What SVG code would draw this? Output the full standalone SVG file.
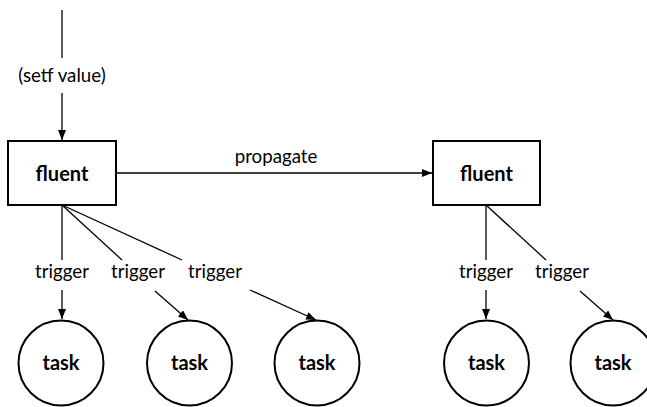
<svg xmlns="http://www.w3.org/2000/svg" width="647" height="407" viewBox="0 0 647 407">
<style>
.box{fill:#fff;stroke:#000;stroke-width:2}
.circ{fill:#fff;stroke:#000;stroke-width:2}
.edge{fill:none;stroke:#000;stroke-width:1.3}
.lbl{font-family:Lato,"DejaVu Sans",sans-serif;font-size:18.7px;fill:#000;text-anchor:middle}
.node{font-family:Lato,"DejaVu Sans",sans-serif;font-size:20px;font-weight:bold;fill:#000;text-anchor:middle}
</style>
<defs>
<marker id="ah" markerWidth="10" markerHeight="8" refX="10" refY="4" orient="auto" markerUnits="userSpaceOnUse">
<path d="M0,0 L10,4 L0,8 Z" fill="#000"/>
</marker>
</defs>
<rect width="647" height="407" fill="#fff"/>
<g id="connectors">
<line class="edge" x1="62" y1="10" x2="62" y2="58"/>
<line class="edge" x1="62" y1="93" x2="62" y2="140" marker-end="url(#ah)"/>
<text class="lbl" x="62" y="82">(setf value)</text>
<line class="edge" x1="116" y1="173" x2="432" y2="173" marker-end="url(#ah)"/>
<text class="lbl" x="276" y="163">propagate</text>
<line class="edge" x1="62" y1="205" x2="62" y2="260"/>
<line class="edge" x1="62" y1="290" x2="62" y2="319" marker-end="url(#ah)"/>
<text class="lbl" x="62" y="278">trigger</text>
<line class="edge" x1="62" y1="205" x2="122" y2="260"/>
<line class="edge" x1="155" y1="291" x2="188" y2="320" marker-end="url(#ah)"/>
<text class="lbl" x="138" y="278">trigger</text>
<line class="edge" x1="62" y1="205" x2="182" y2="260"/>
<line class="edge" x1="250" y1="290" x2="316" y2="320" marker-end="url(#ah)"/>
<text class="lbl" x="215" y="278">trigger</text>
<line class="edge" x1="486" y1="205" x2="486" y2="260"/>
<line class="edge" x1="486" y1="290" x2="486" y2="319" marker-end="url(#ah)"/>
<text class="lbl" x="486" y="278">trigger</text>
<line class="edge" x1="486" y1="205" x2="546" y2="260"/>
<line class="edge" x1="580" y1="291" x2="613" y2="320" marker-end="url(#ah)"/>
<text class="lbl" x="562" y="278">trigger</text>
</g>
<g id="fluent1"><rect class="box" x="8" y="141" width="108" height="64"/><text class="node" x="62" y="181">fluent</text></g>
<g id="fluent2"><rect class="box" x="433" y="141" width="107" height="64"/><text class="node" x="486.5" y="181">fluent</text></g>
<g id="task1"><circle class="circ" cx="61" cy="363" r="42.5"/><text class="node" x="61" y="370">task</text></g>
<g id="task2"><circle class="circ" cx="189.5" cy="363" r="42.5"/><text class="node" x="189.5" y="370">task</text></g>
<g id="task3"><circle class="circ" cx="317" cy="363" r="42.5"/><text class="node" x="317" y="370">task</text></g>
<g id="task4"><circle class="circ" cx="486.5" cy="363" r="42.5"/><text class="node" x="486.5" y="370">task</text></g>
<g id="task5"><circle class="circ" cx="613" cy="363" r="42.5"/><text class="node" x="613" y="370">task</text></g>
</svg>
